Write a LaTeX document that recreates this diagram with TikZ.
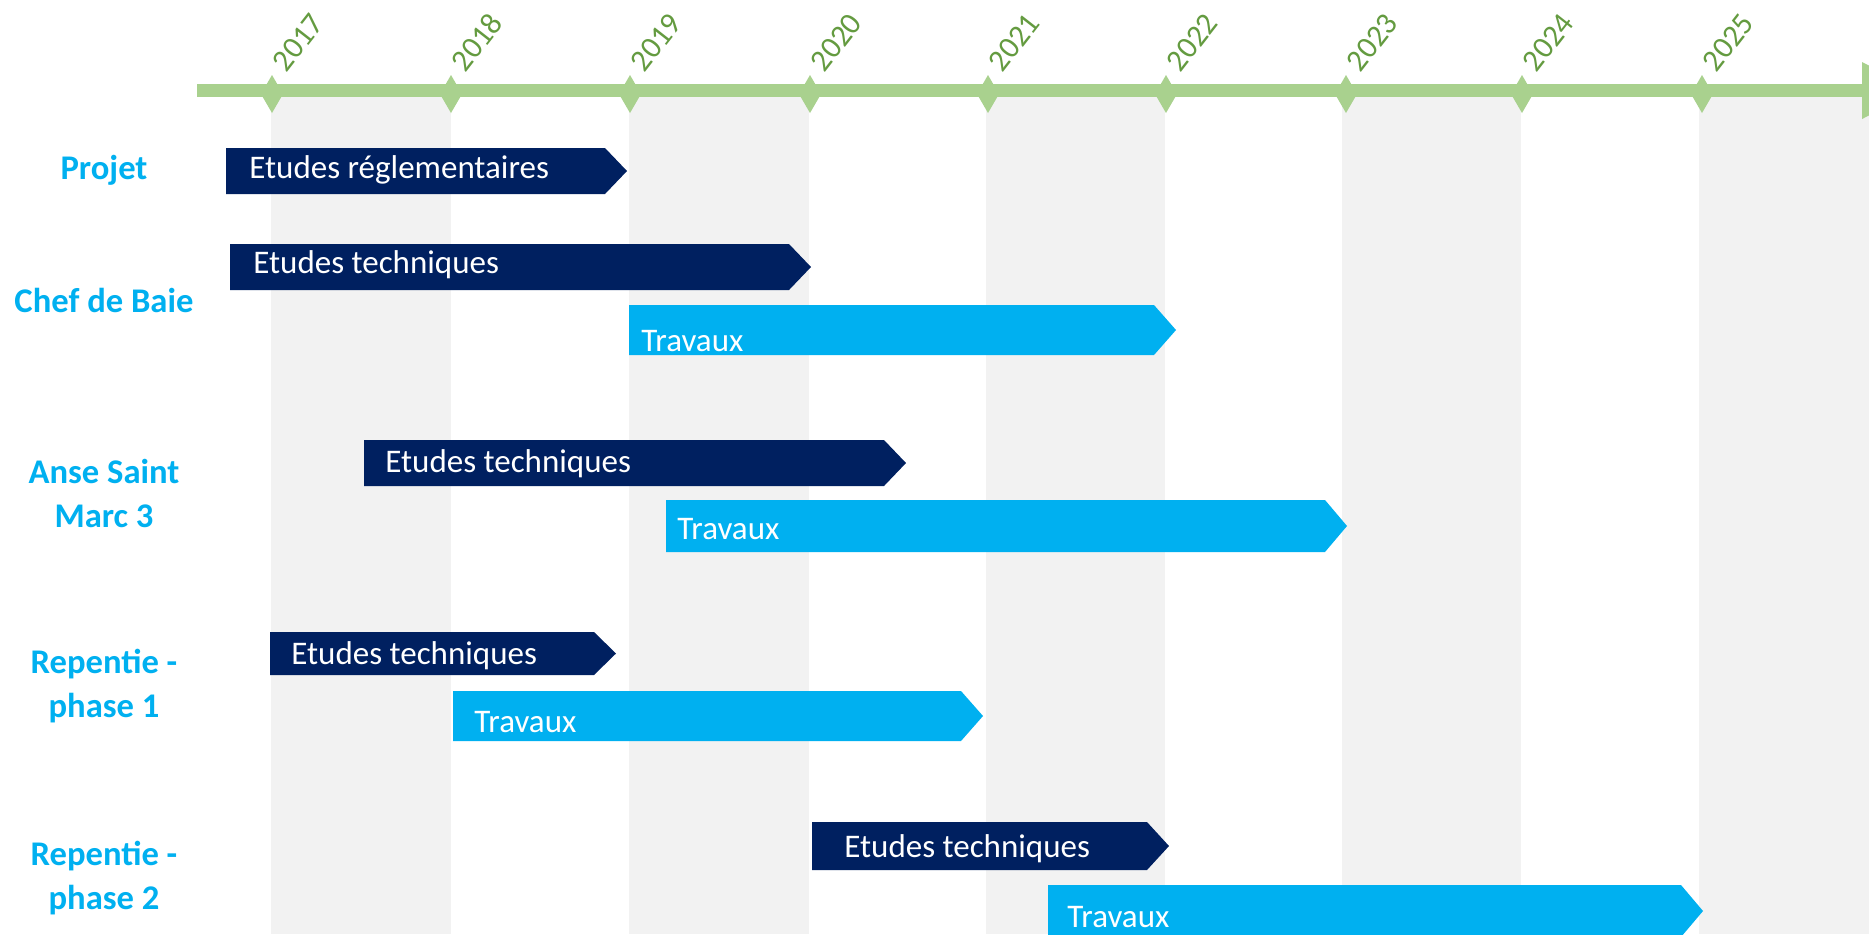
\documentclass[tikz,border=0pt]{standalone}
\usepackage{fontspec}
\setmainfont{Carlito}
\definecolor{navy}{HTML}{002060}
\definecolor{sky}{HTML}{00B0F0}
\definecolor{band}{HTML}{F2F2F2}
\definecolor{axisgreen}{HTML}{A9D18E}
\definecolor{yeargreen}{HTML}{649B40}
\newcommand{\ganttbar}[9]{% name, left, body end, text offset, top, bottom, text y, colour, text
  \fill[#8] (#2,#5) -- (#3,#5) -- ({#3+22},{(#5+#6)/2}) -- (#3,#6) -- (#2,#6) -- cycle;
  \node[bartext] (#1) at ({#2+#4},#7) {#9};
}
\begin{document}
\begin{tikzpicture}[x=0.5pt,y=-0.5pt,
  bartext/.style={anchor=west,inner sep=0pt,text=white,font=\fontsize{16.5}{18}\selectfont},
  rowlabel/.style={align=center,inner sep=0pt,text=sky,font=\fontsize{17.3}{22}\selectfont\bfseries},
  yearlabel/.style={anchor=south west,rotate=52,inner sep=0pt,text=yeargreen,font=\fontsize{15.5}{16}\selectfont}]
\useasboundingbox (0,0) rectangle (1869,934);
\fill[white] (0,0) rectangle (1869,934);
% bands
\foreach \a/\b in {271/451, 629/809, 986/1165, 1342/1521, 1699/1869}
  \fill[band] (\a,96) rectangle (\b,934);
% axis
\draw[axisgreen,line width=6.5pt] (197,90.5) -- (1864,90.5);
\fill[axisgreen] (1862,62) -- (1918,90.5) -- (1862,119) -- cycle;
\foreach \x/\y [count=\i] in {272/2017, 451/2018, 630/2019, 810/2020, 988/2021, 1166/2022, 1346/2023, 1522/2024, 1702/2025}{
  \fill[axisgreen] (\x,75) -- (\x+11,94) -- (\x,113) -- (\x-11,94) -- cycle;
  \node[yearlabel] (y\i) at (\x+15,74) {\y};
}
% bars
\ganttbar{b1}{226}{605}{23}{148}{194}{170}{navy}{Etudes réglementaires}
\ganttbar{b2}{230}{789}{23}{244}{290}{265}{navy}{Etudes techniques}
\ganttbar{b3}{629}{1154}{12}{305}{355}{341}{sky}{Travaux}
\ganttbar{b4}{364}{884}{21}{440}{486}{464}{navy}{Etudes techniques}
\ganttbar{b5}{666}{1325}{11}{500}{552}{529}{sky}{Travaux}
\ganttbar{b6}{270}{594}{21}{632}{675}{656}{navy}{Etudes techniques}
\ganttbar{b7}{453}{961}{21}{691}{741}{722}{sky}{Travaux}
\ganttbar{b8}{812}{1147}{32}{822}{870}{849}{navy}{Etudes techniques}
\ganttbar{b9}{1048}{1681}{19}{885}{937}{917}{sky}{Travaux}
% row labels
\node[rowlabel] (l1) at (104,170) {Projet};
\node[rowlabel] (l2) at (104,300) {Chef de Baie};
\node[rowlabel] (l3) at (104,493) {Anse Saint\\Marc 3};
\node[rowlabel] (l4) at (104,686) {Repentie -\\phase 1};
\node[rowlabel] (l5) at (104,878) {Repentie -\\phase 2};
\end{tikzpicture}
\end{document}
